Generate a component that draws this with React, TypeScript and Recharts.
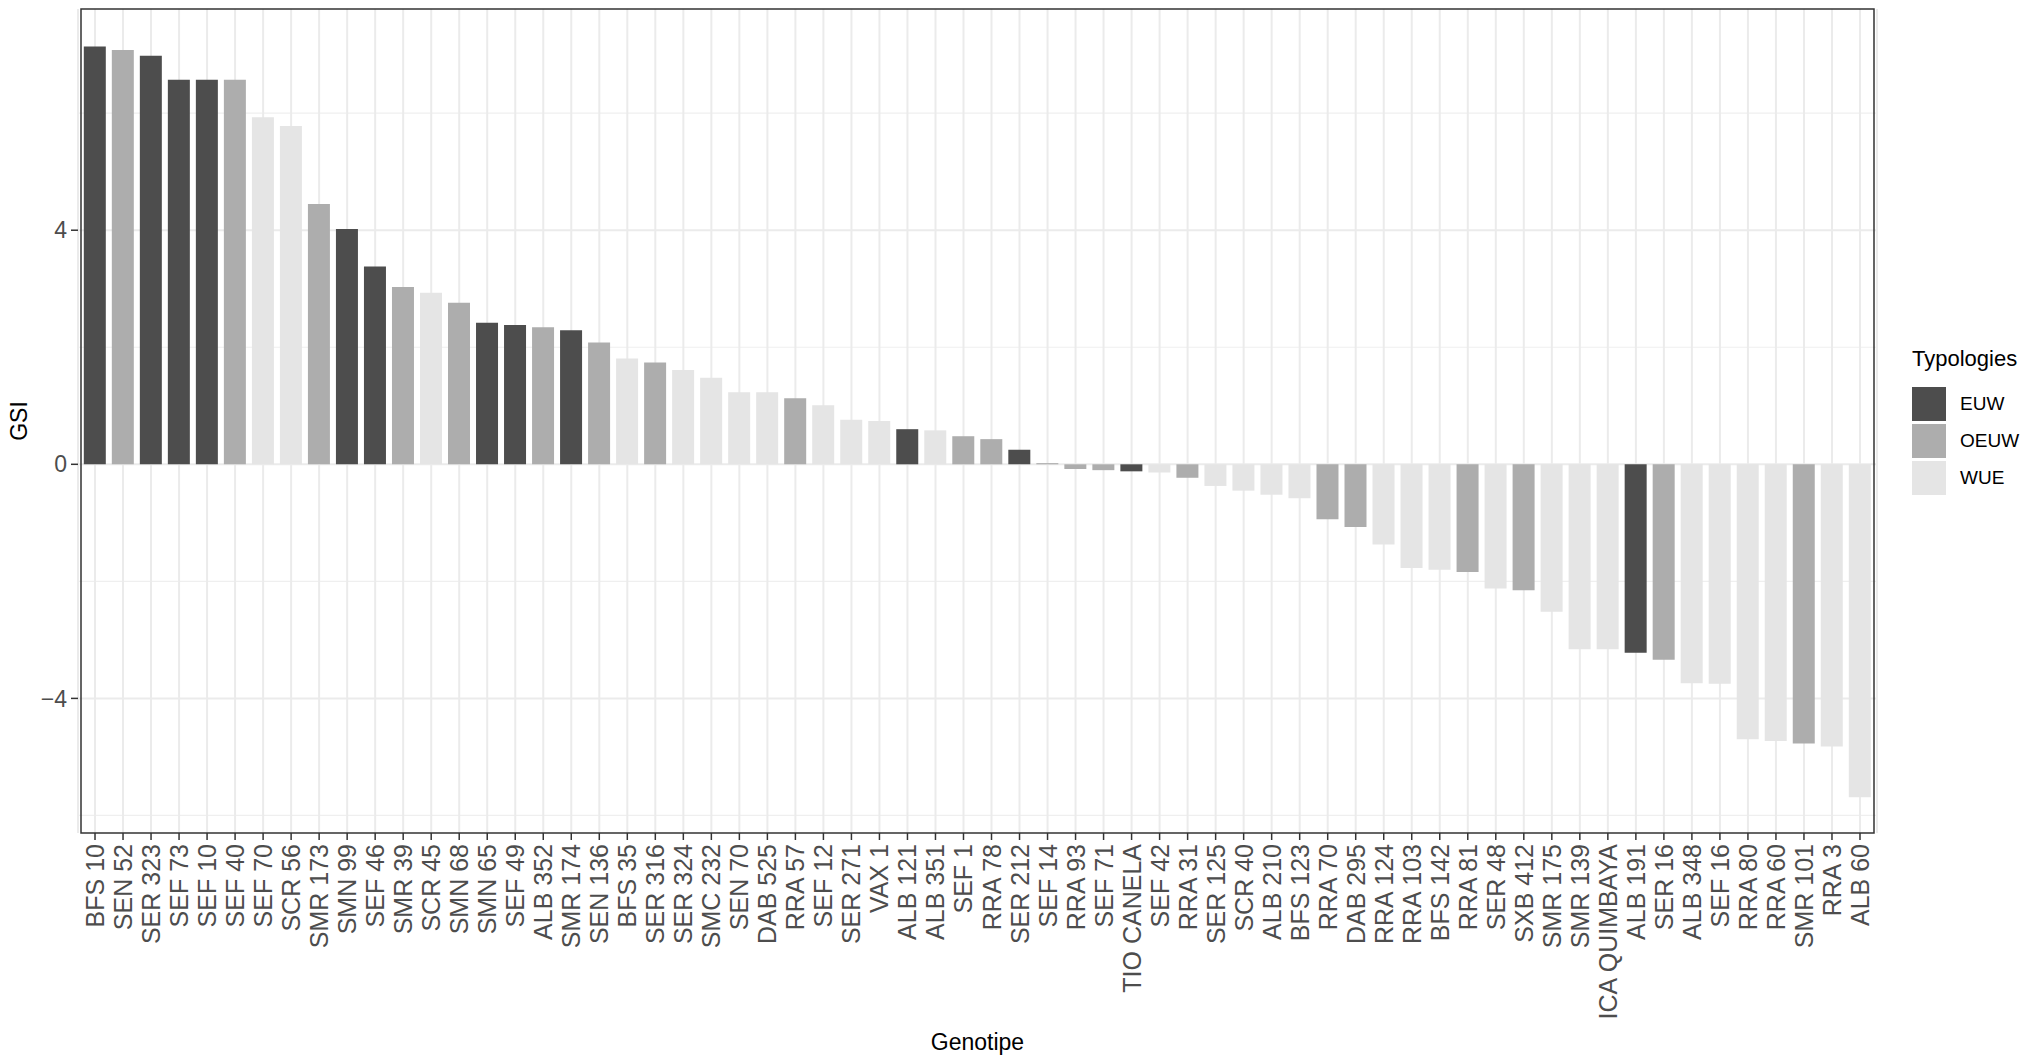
import {
  BarChart,
  Bar,
  Cell,
  XAxis,
  YAxis,
  CartesianGrid,
  ReferenceArea,
} from "recharts";

const GENOTYPES = [
  "BFS 10", "SEN 52", "SER 323", "SEF 73", "SEF 10", "SEF 40", "SEF 70", "SCR 56",
  "SMR 173", "SMN 99", "SEF 46", "SMR 39", "SCR 45", "SMN 68", "SMN 65", "SEF 49",
  "ALB 352", "SMR 174", "SEN 136", "BFS 35", "SER 316", "SER 324", "SMC 232", "SEN 70",
  "DAB 525", "RRA 57", "SEF 12", "SER 271", "VAX 1", "ALB 121", "ALB 351", "SEF 1",
  "RRA 78", "SER 212", "SEF 14", "RRA 93", "SEF 71", "TIO CANELA", "SEF 42", "RRA 31",
  "SER 125", "SCR 40", "ALB 210", "BFS 123", "RRA 70", "DAB 295", "RRA 124", "RRA 103",
  "BFS 142", "RRA 81", "SER 48", "SXB 412", "SMR 175", "SMR 139", "ICA QUIMBAYA", "ALB 191",
  "SER 16", "ALB 348", "SEF 16", "RRA 80", "RRA 60", "SMR 101", "RRA 3", "ALB 60",
];

const GSI = [
  7.14, 7.08, 6.98, 6.57, 6.57, 6.57, 5.93, 5.78,
  4.45, 4.02, 3.38, 3.03, 2.93, 2.76, 2.42, 2.38,
  2.34, 2.29, 2.08, 1.81, 1.74, 1.61, 1.48, 1.23,
  1.23, 1.13, 1.01, 0.76, 0.74, 0.6, 0.58, 0.48,
  0.43, 0.25, 0.02, -0.08, -0.1, -0.12, -0.14, -0.23,
  -0.37, -0.45, -0.52, -0.58, -0.94, -1.07, -1.37, -1.77,
  -1.8, -1.84, -2.12, -2.15, -2.52, -3.16, -3.16, -3.22,
  -3.34, -3.74, -3.75, -4.7, -4.73, -4.77, -4.82, -5.69,
];

const TYPOLOGY = [
  "EUW", "OEUW", "EUW", "EUW", "EUW", "OEUW", "WUE", "WUE",
  "OEUW", "EUW", "EUW", "OEUW", "WUE", "OEUW", "EUW", "EUW",
  "OEUW", "EUW", "OEUW", "WUE", "OEUW", "WUE", "WUE", "WUE",
  "WUE", "OEUW", "WUE", "WUE", "WUE", "EUW", "WUE", "OEUW",
  "OEUW", "EUW", "OEUW", "OEUW", "OEUW", "EUW", "WUE", "OEUW",
  "WUE", "WUE", "WUE", "WUE", "OEUW", "OEUW", "WUE", "WUE",
  "WUE", "OEUW", "WUE", "OEUW", "WUE", "WUE", "WUE", "EUW",
  "OEUW", "WUE", "WUE", "WUE", "WUE", "OEUW", "WUE", "WUE",
];

const TYPES = ["EUW", "OEUW", "WUE"];
const TYPE_COLORS: Record<string, string> = {
  EUW: "#4D4D4D",
  OEUW: "#ADADAD",
  WUE: "#E5E5E5",
};

const Y_TICKS = [-4, 0, 4];
const Y_MINOR = [-6, -2, 2, 6];
const Y_MIN = -6.3;
const Y_MAX = 7.78;

const data = GENOTYPES.map((name, i) => ({ name, gsi: GSI[i], type: TYPOLOGY[i] }));

const FONT = "'Liberation Sans', Arial, Helvetica, sans-serif";

const XTick = ({ x, y, payload }: any) => (
  <text
    x={x}
    y={y}
    transform={`rotate(-90 ${x} ${y})`}
    textAnchor="end"
    dominantBaseline="central"
    fontSize={25}
    fontFamily={FONT}
    fill="#4D4D4D"
  >
    {payload.value}
  </text>
);

// legend drawn as a plain block to the right of the panel
const LegendBox = () => (
  <div style={{ position: "absolute", left: 1912, top: 346, fontFamily: FONT }}>
    <div style={{ fontSize: 22, color: "#000", lineHeight: "26px", marginBottom: 13 }}>Typologies</div>
    {TYPES.map((t) => (
      <div key={t} style={{ display: "flex", alignItems: "center", height: 37 }}>
        <div style={{ width: 34, height: 34, background: TYPE_COLORS[t] }} />
        <span style={{ fontSize: 19, color: "#000", marginLeft: 14 }}>{t}</span>
      </div>
    ))}
  </div>
);

export default function App() {
  return (
    <div style={{ position: "absolute", left: 0, top: 0, width: 2031, height: 1062, background: "#fff" }}>
      <BarChart
        width={2031}
        height={1062}
        data={data}
        barCategoryGap="10%"
        margin={{ top: 9, right: 154, bottom: 0, left: 0 }}
      >
        <CartesianGrid
          horizontalValues={Y_MINOR}
          vertical={false}
          stroke="#EFEFEF"
          strokeWidth={1.2}
        />
        <CartesianGrid horizontalValues={Y_TICKS} stroke="#EBEBEB" strokeWidth={2} />
        <XAxis
          dataKey="name"
          interval={0}
          height={229}
          padding={{ left: 3, right: 3 }}
          tick={<XTick />}
          tickSize={7}
          tickMargin={4}
          axisLine={false}
          tickLine={{ stroke: "#333333", strokeWidth: 1.5 }}
          label={{
            value: "Genotipe",
            position: "insideBottom",
            offset: 12,
            fontSize: 23,
            fontFamily: FONT,
            fill: "#000",
          }}
        />
        <YAxis
          type="number"
          domain={[Y_MIN, Y_MAX]}
          ticks={Y_TICKS}
          width={78}
          tickSize={7}
          tickMargin={4}
          axisLine={false}
          tickLine={{ stroke: "#333333", strokeWidth: 1.5 }}
          tick={{ fontSize: 23, fontFamily: FONT, fill: "#4D4D4D" }}
          tickFormatter={(v: number) => (v < 0 ? `\u2212${Math.abs(v)}` : `${v}`)}
          label={{
            content: ({ viewBox }: any) => {
              const lx = viewBox.x + 19;
              const ly = viewBox.y + viewBox.height / 2;
              return (
                <text
                  x={lx}
                  y={ly}
                  transform={`rotate(-90 ${lx} ${ly})`}
                  textAnchor="middle"
                  dominantBaseline="central"
                  fontSize={23}
                  fontFamily={FONT}
                  fill="#000"
                >
                  GSI
                </text>
              );
            },
          }}
        />
        <Bar dataKey="gsi" isAnimationActive={false}>
          {data.map((d) => (
            <Cell key={d.name} fill={TYPE_COLORS[d.type]} />
          ))}
        </Bar>
        <ReferenceArea y1={Y_MIN} y2={Y_MAX} fill="none" stroke="#333333" strokeWidth={1.5} ifOverflow="visible" />
      </BarChart>
      <LegendBox />
    </div>
  );
}
